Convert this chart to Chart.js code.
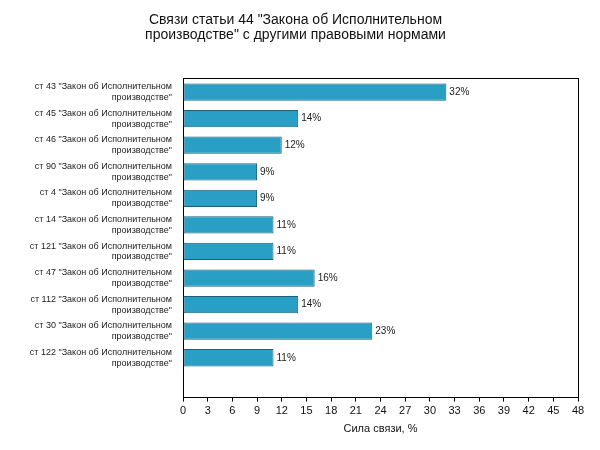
<!DOCTYPE html>
<html><head><meta charset="utf-8">
<script src="https://cdn.jsdelivr.net/npm/chart.js@4"></script>
<style>body{margin:0;background:#fff}#wrap{width:600px;height:450px}</style>
</head><body><div id="wrap"><canvas id="c"></canvas></div>
<script>
var articles = ["43", "45", "46", "90", "4", "14", "121", "47", "112", "30", "122"];
var values = [32, 14, 12, 9, 9, 11, 11, 16, 14, 23, 11];
var xTicks = [0, 48, 3];

var labels = articles.map(function(a){
    return ['ст ' + a + ' "Закон об Исполнительном', 'производстве"'];
});
labels.push('');
var data = values.slice();
data.push(null);

var valueLabels = {
    id: 'valueLabels',
    afterDatasetsDraw: function(chart){
        var ctx = chart.ctx;
        ctx.save();
        ctx.font = '10px "Liberation Sans", Arial';
        ctx.fillStyle = '#222';
        ctx.textBaseline = 'middle';
        chart.getDatasetMeta(0).data.forEach(function(bar, i){
            if (values[i] == null) return;
            ctx.fillText(values[i] + '%', bar.x + 3, bar.y);
        });
        ctx.restore();
    }
};

var ctx = document.getElementById('c').getContext('2d');
new Chart(ctx, {
    type: 'bar',
    data: {
        labels: labels,
        datasets: [{
            data: data,
            backgroundColor: '#2a9fc6',
            borderColor: '#1b5f78',
            borderWidth: 1,
            borderSkipped: false,
            categoryPercentage: 0.65,
            barPercentage: 1
        }]
    },
    options: {
        indexAxis: 'y',
        responsive: true,
        maintainAspectRatio: false,
        animation: false,
        layout: {padding: {left: 5, right: 14, top: 0, bottom: 10}},
        plugins: {
            legend: {display: false},
            tooltip: {enabled: false},
            title: {
                display: true,
                text: ['Связи статьи 44 "Закона об Исполнительном', 'производстве" с другими правовыми нормами'],
                color: '#111',
                font: {family: '"Liberation Sans", Arial', size: 14, weight: 'normal', lineHeight: 1.1},
                padding: {top: 12, bottom: 36}
            }
        },
        scales: {
            x: {
                min: xTicks[0], max: xTicks[1],
                ticks: {stepSize: xTicks[2], color: '#111', font: {family: '"Liberation Sans", Arial', size: 11}},
                grid: {display: true, drawOnChartArea: false, tickLength: 4, color: '#000'},
                border: {color: '#000'},
                title: {display: true, text: 'Сила связи, %', color: '#111', font: {family: '"Liberation Sans", Arial', size: 11}, padding: {top: 2}}
            },
            x2: {
                position: 'top', min: xTicks[0], max: xTicks[1],
                ticks: {display: false, stepSize: xTicks[2]},
                grid: {drawOnChartArea: false, tickLength: 0},
                border: {color: '#000'}
            },
            y: {
                afterFit: function(s){ s.width = 178; },
                ticks: {color: '#222', font: {family: '"Liberation Sans", Arial', size: 9}, autoSkip: false},
                grid: {display: false},
                border: {color: '#000'}
            },
            y2: {
                position: 'right', type: 'category', labels: labels,
                ticks: {display: false}, grid: {display: false},
                border: {color: '#000'}
            }
        }
    },
    plugins: [valueLabels]
});
</script></body></html>
